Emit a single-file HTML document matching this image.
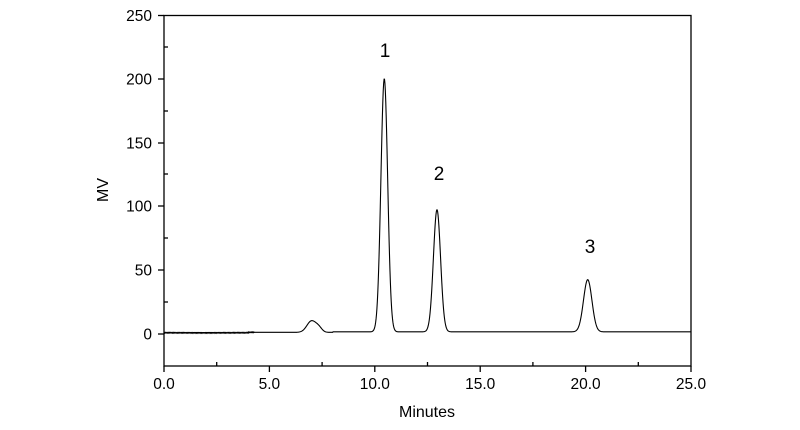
<!DOCTYPE html>
<html><head><style>
body{margin:0;background:#fff;}
svg{display:block;font-family:"Liberation Sans",Arial,sans-serif;}
</style></head><body>
<svg id="s" width="800" height="430" viewBox="0 0 800 430">
<rect x="164" y="15.5" width="527" height="350.5" fill="none" stroke="#000" stroke-width="1.3"/>
<g stroke="#000" stroke-width="1.3">
<line x1="158" y1="15.5" x2="164" y2="15.5"/><line x1="158" y1="79" x2="164" y2="79"/>
<line x1="158" y1="143" x2="164" y2="143"/><line x1="158" y1="206" x2="164" y2="206"/>
<line x1="158" y1="270" x2="164" y2="270"/><line x1="158" y1="334" x2="164" y2="334"/>
<line x1="164" y1="47" x2="168" y2="47"/><line x1="164" y1="111" x2="168" y2="111"/>
<line x1="164" y1="174" x2="168" y2="174"/><line x1="164" y1="238" x2="168" y2="238"/>
<line x1="164" y1="302" x2="168" y2="302"/>
<line x1="164" y1="366" x2="164" y2="372"/><line x1="269.4" y1="366" x2="269.4" y2="372"/>
<line x1="374.8" y1="366" x2="374.8" y2="372"/><line x1="480.2" y1="366" x2="480.2" y2="372"/>
<line x1="585.6" y1="366" x2="585.6" y2="372"/><line x1="691" y1="366" x2="691" y2="372"/>
<line x1="216.7" y1="366" x2="216.7" y2="362"/><line x1="322.1" y1="366" x2="322.1" y2="362"/>
<line x1="427.5" y1="366" x2="427.5" y2="362"/><line x1="532.9" y1="366" x2="532.9" y2="362"/>
<line x1="638.3" y1="366" x2="638.3" y2="362"/>
</g>
<g font-size="15.5" text-anchor="end" fill="#000">
<text x="152" y="21">250</text><text x="152" y="84.5">200</text><text x="152" y="148.5">150</text>
<text x="152" y="211.5">100</text><text x="152" y="275.5">50</text><text x="152" y="339.5">0</text>
</g>
<g font-size="15.5" text-anchor="middle" fill="#000">
<text x="164" y="389">0.0</text><text x="269.4" y="389">5.0</text><text x="374.8" y="389">10.0</text>
<text x="480.2" y="389">15.0</text><text x="585.6" y="389">20.0</text><text x="691" y="389">25.0</text>
<text x="427" y="417" font-size="16">Minutes</text>
<text x="385" y="57" font-size="19">1</text>
<text x="439" y="180" font-size="19">2</text>
<text x="590" y="253" font-size="19">3</text>
<text transform="translate(108,190) rotate(-90)" font-size="16">MV</text>
</g>
<path id="p" fill="none" stroke="#000" stroke-width="1.1"/>
</svg>
<script>
var d="";
function g(x,m,s,h){return h*Math.exp(-0.5*Math.pow((x-m)/s,2));}
for(var i=0;i<=1250;i++){
 var x=i*0.02;
 var y=1+(x>4?0.3:0)+(x>8?0.4:0);
 if(x<4.3) y+=0.35*Math.sin(i*2.1);
 y+=g(x,7.0,0.22,9)+g(x,7.35,0.15,3);
 y+=g(x,10.45,0.16,199);
 y+=g(x,12.95,0.17,96);
 y+=g(x,20.1,0.2,41);
 var px=164+x*21.08, py=334-y*1.272;
 d+=(i?"L":"M")+px.toFixed(2)+" "+py.toFixed(2);
}
document.getElementById("p").setAttribute("d",d);
</script>
</body></html>
